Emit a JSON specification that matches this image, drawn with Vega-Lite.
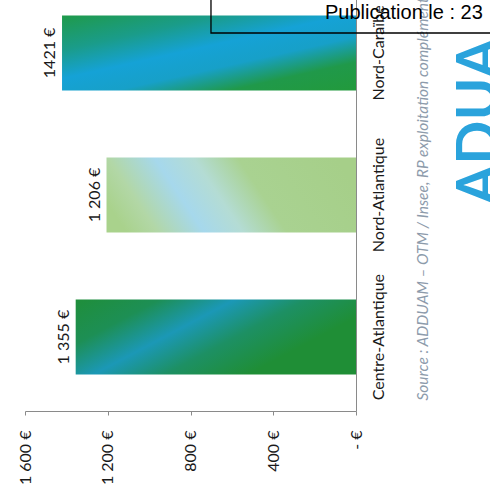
{
  "$schema": "https://vega.github.io/schema/vega-lite/v6.json",
  "autosize": {"type": "none"},
  "width": 331,
  "height": 432,
  "padding": {"left": 25, "top": -21, "right": 134, "bottom": 89},
  "background": "white",
  "view": {"stroke": null},
  "resolve": {"scale": {"y": "independent"}, "axis": {"y": "independent"}},
  "layer": [
    {
      "data": {
        "values": [
          {"region": "Centre-Atlantique", "revenu": 1355, "label": "1 355 €"},
          {"region": "Nord-Atlantique", "revenu": 1206, "label": "1 206 €"},
          {"region": "Nord-Caraïbe", "revenu": 1421, "label": "1421 €"}
        ]
      },
      "encoding": {
        "y": {
          "field": "region",
          "type": "nominal",
          "sort": ["Nord-Caraïbe", "Nord-Atlantique", "Centre-Atlantique"],
          "scale": {"paddingInner": 0.4727, "paddingOuter": 0.2566},
          "axis": {
            "orient": "right",
            "ticks": false,
            "domain": true,
            "domainColor": "#8a8a8a",
            "domainWidth": 1,
            "labelAngle": 270,
            "labelAlign": "center",
            "labelBaseline": "top",
            "labelPadding": 14,
            "labelFont": "Lato",
            "labelFontSize": 16,
            "labelColor": "#1a1a1a",
            "title": "Source : ADDUAM – OTM / Insee, RP exploitation complémentaire",
            "titleAngle": 270,
            "titleAlign": "left",
            "titleBaseline": "middle",
            "titleX": 66,
            "titleY": 421,
            "titleFont": "Lato",
            "titleFontSize": 15.5,
            "titleFontStyle": "italic",
            "titleFontWeight": "normal",
            "titleColor": "#8d9bab"
          }
        },
        "x": {
          "field": "revenu",
          "type": "quantitative",
          "scale": {"domain": [0, 1600], "reverse": true, "nice": false},
          "axis": {
            "orient": "bottom",
            "values": [0, 400, 800, 1200, 1600],
            "grid": false,
            "ticks": true,
            "tickSize": 4,
            "tickColor": "#8a8a8a",
            "domainColor": "#8a8a8a",
            "labelAngle": 270,
            "labelAlign": "right",
            "labelBaseline": "middle",
            "labelPadding": 15,
            "labelFont": "Lato",
            "labelFontSize": 16,
            "labelColor": "#1a1a1a",
            "labelExpr": "datum.value == 0 ? '- €' : replace(format(datum.value, ','), ',', ' ') + ' €'",
            "title": null
          }
        }
      },
      "layer": [
        {
          "transform": [{"filter": "datum.region == 'Centre-Atlantique'"}],
          "mark": {
            "type": "bar",
            "color": {
              "gradient": "linear",
              "x1": 0, "y1": 0, "x2": 1.19, "y2": 0.6,
              "stops": [
                {"offset": 0, "color": "#1f8e3a"},
                {"offset": 0.2, "color": "#1d8f55"},
                {"offset": 0.38, "color": "#1b98b6"},
                {"offset": 0.55, "color": "#1d9064"},
                {"offset": 0.75, "color": "#1f8e36"},
                {"offset": 1, "color": "#1f8e36"}
              ]
            }
          }
        },
        {
          "transform": [{"filter": "datum.region == 'Nord-Atlantique'"}],
          "mark": {
            "type": "bar",
            "color": {
              "gradient": "linear",
              "x1": 0, "y1": 0.6, "x2": 1, "y2": 0.4,
              "stops": [
                {"offset": 0, "color": "#a9d28c"},
                {"offset": 0.12, "color": "#b2d7a6"},
                {"offset": 0.3, "color": "#a6d8ec"},
                {"offset": 0.45, "color": "#b4dcd4"},
                {"offset": 0.62, "color": "#a9d291"},
                {"offset": 1, "color": "#a6cf89"}
              ]
            }
          }
        },
        {
          "transform": [{"filter": "datum.region == 'Nord-Caraïbe'"}],
          "mark": {
            "type": "bar",
            "color": {
              "gradient": "linear",
              "x1": 0, "y1": 0, "x2": 0.93, "y2": 1.06,
              "stops": [
                {"offset": 0, "color": "#1f9a4a"},
                {"offset": 0.25, "color": "#1a9c8a"},
                {"offset": 0.45, "color": "#15a2d6"},
                {"offset": 0.62, "color": "#17a0c8"},
                {"offset": 0.8, "color": "#20994a"},
                {"offset": 1, "color": "#229a3c"}
              ]
            }
          }
        },
        {
          "mark": {
            "type": "text",
            "angle": 270,
            "align": "center",
            "baseline": "bottom",
            "dy": -4,
            "font": "Lato",
            "fontSize": 16,
            "color": "#1a1a1a"
          },
          "encoding": {"text": {"field": "label"}}
        }
      ]
    },
    {
      "data": {
        "values": [
          {"item": "box", "x": 701, "x2": -700, "y": -30, "y2": 54},
          {"item": "pub", "x": 150, "y": 40, "txt": "Publication le : 23"},
          {"item": "logo", "x": -464, "y": 226, "txt": "ADUA"}
        ]
      },
      "encoding": {
        "x": {
          "field": "x",
          "type": "quantitative",
          "scale": {"domain": [0, 1600], "reverse": true, "nice": false},
          "axis": {
            "orient": "bottom",
            "values": [0, 400, 800, 1200, 1600],
            "grid": false,
            "ticks": true,
            "tickSize": 4,
            "tickColor": "#8a8a8a",
            "domainColor": "#8a8a8a",
            "labelAngle": 270,
            "labelAlign": "right",
            "labelBaseline": "middle",
            "labelPadding": 15,
            "labelFont": "Lato",
            "labelFontSize": 16,
            "labelColor": "#1a1a1a",
            "labelExpr": "datum.value == 0 ? '- €' : replace(format(datum.value, ','), ',', ' ') + ' €'",
            "title": null
          }
        },
        "y": {"field": "y", "type": "quantitative", "scale": {"domain": [0, 432], "reverse": true, "nice": false, "zero": false}, "axis": null}
      },
      "layer": [
        {
          "transform": [{"filter": "datum.item == 'logo'"}],
          "mark": {"type": "text", "angle": 270, "align": "left", "baseline": "top", "font": "Lato", "fontSize": 58, "fontWeight": "bold", "color": "#2aa3dc", "clip": false},
          "encoding": {"text": {"field": "txt"}}
        },
        {
          "transform": [{"filter": "datum.item == 'box'"}],
          "mark": {"type": "rect", "fill": null, "stroke": "#000000", "strokeWidth": 1.3, "clip": false},
          "encoding": {"x2": {"field": "x2"}, "y2": {"field": "y2"}}
        },
        {
          "transform": [{"filter": "datum.item == 'pub'"}],
          "mark": {"type": "text", "align": "left", "baseline": "alphabetic", "font": "Liberation Sans", "fontSize": 20, "color": "#000000", "clip": false},
          "encoding": {"text": {"field": "txt"}}
        }
      ]
    }
  ]
}
